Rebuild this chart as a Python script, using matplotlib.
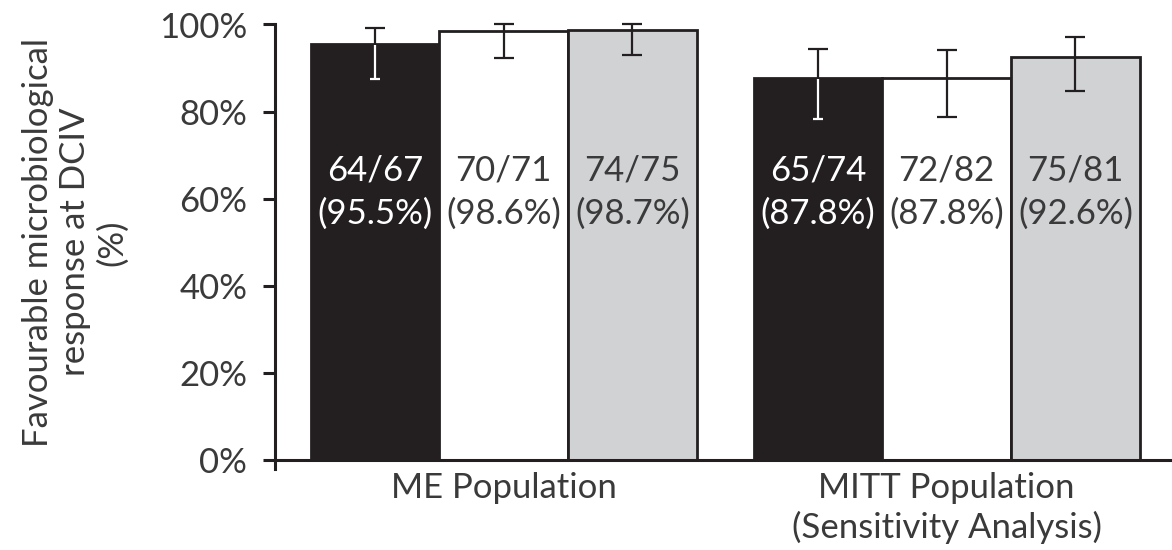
import numpy as np
import matplotlib.pyplot as plt
from matplotlib.ticker import FuncFormatter

plt.rcParams['font.family'] = ['Lato', 'DejaVu Sans']

groups = ["ME Population", "MITT Population\n(Sensitivity Analysis)"]
counts = [["64/67", "70/71", "74/75"],
          ["65/74", "72/82", "75/81"]]
pct = [[95.5, 98.6, 98.7],
       [87.8, 87.8, 92.6]]
ci_low = [[87.5, 92.4, 92.9],
          [78.2, 78.8, 84.8]]
ci_high = [[99.1, 100.0, 100.0],
           [94.4, 94.1, 97.2]]

fills = ["#231f20", "#ffffff", "#d1d2d4"]
txt_cols = ["#ffffff", "#3a3a3a", "#3a3a3a"]
edge = "#231f20"
grey_txt = "#3a3a3a"

fig = plt.figure(figsize=(11.72, 5.5), dpi=100)
ax = fig.add_axes([275/1172, 90/550, 1 - 275/1172, 435.5/550])

group_start = [0.0, 3.44]
for g in range(2):
    for k in range(3):
        x = group_start[g] + k
        v = pct[g][k]
        ax.bar(x, v, width=1.0, color=fills[k], edgecolor=edge, linewidth=2, zorder=2)
        err = [[v - ci_low[g][k]], [ci_high[g][k] - v]]
        eb = ax.errorbar(x, v, yerr=err, fmt='none', ecolor=edge, elinewidth=1.6,
                         capsize=7, capthick=1.6, zorder=3)
        for art in eb.get_children():
            art.set_clip_on(False)
        if k == 0:
            # lower half of the whisker sits on the black bar, drawn in white
            ax.vlines(x, ci_low[g][k], v - 0.3, color='white', linewidth=1.6, zorder=4)
            ax.hlines(ci_low[g][k], x - 0.037, x + 0.037, color='white', linewidth=1.6, zorder=4)
        ax.text(x, 61.5, "%s\n(%.1f%%)" % (counts[g][k], v), ha='center', va='center',
                color=txt_cols[k], fontsize=25, linespacing=1.42, zorder=5)

ax.set_xlim(-0.776, 6.19)
ax.set_ylim(0, 100)
ax.set_yticks(np.arange(0, 101, 20))
ax.yaxis.set_major_formatter(FuncFormatter(lambda y, p: "%d%%" % y))
ax.set_xticks([group_start[0] + 1, group_start[1] + 1])
ax.set_xticklabels(groups, fontsize=25, color=grey_txt, linespacing=1.22)
ax.tick_params(axis='x', length=0, pad=9)
ax.tick_params(axis='y', length=9, width=2.2, color=edge, labelsize=25,
               labelcolor=grey_txt, pad=11)

for s in ['top', 'right']:
    ax.spines[s].set_visible(False)
for s in ['left', 'bottom']:
    ax.spines[s].set_linewidth(2.2)
    ax.spines[s].set_color(edge)
ax.spines['left'].set_bounds(-2, 100)
ax.spines['left'].set_zorder(6)

ax.set_ylabel("Favourable microbiological\nresponse at DCIV\n(%)", fontsize=25,
              color=grey_txt, linespacing=1.2, labelpad=22)

fig.savefig("out.png", dpi=100)
